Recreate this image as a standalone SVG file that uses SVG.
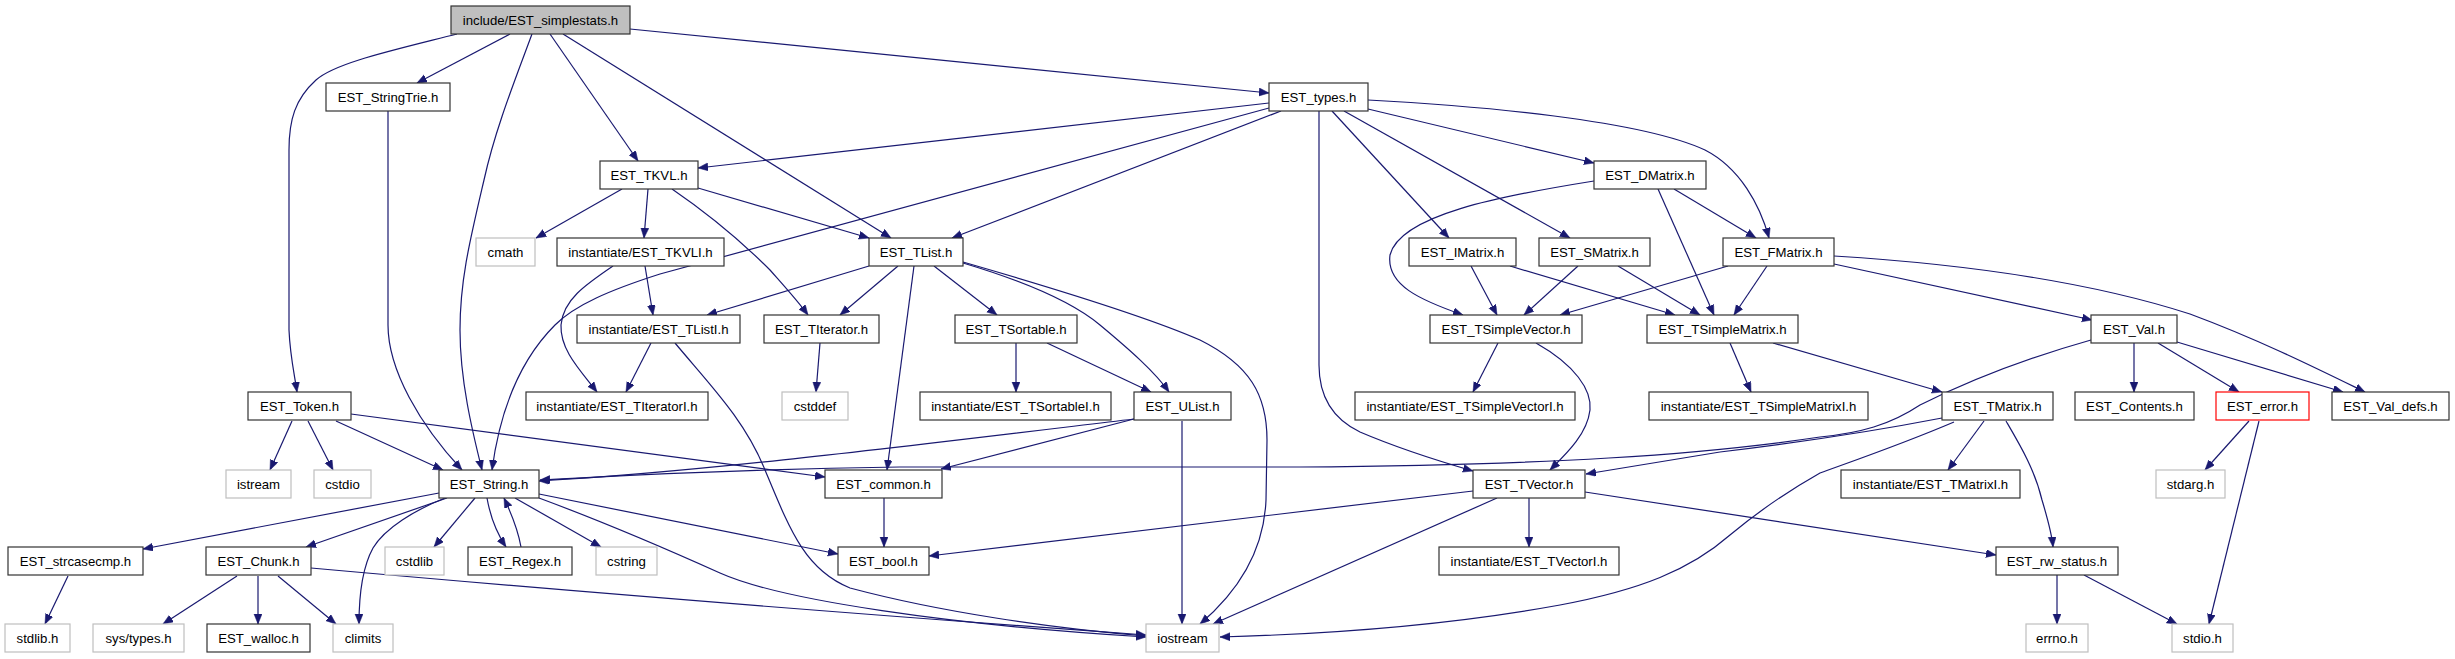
<svg xmlns="http://www.w3.org/2000/svg" width="2455" height="659" viewBox="0 0 2455 659">
<style>
.n rect{fill:#fff;stroke:#333333;stroke-width:1.2}
.g rect{fill:#fff;stroke:#bfbfbf;stroke-width:1.2}
.r rect{fill:#fff;stroke:#ff0000;stroke-width:1.2}
.t rect{fill:#bfbfbf;stroke:#333333;stroke-width:1.2}
text{font-family:"Liberation Sans",Arial,sans-serif;font-size:13.2px;fill:#000;text-anchor:middle}
.e path{fill:none;stroke:#191970;stroke-width:1.2;marker-end:url(#ah)}
</style>
<defs>
<marker id="ah" markerUnits="userSpaceOnUse" markerWidth="11" markerHeight="9" refX="10" refY="4" orient="auto">
<path d="M0,0 L10,4 L0,8 z" fill="#191970" stroke="#191970" stroke-width="0.5"/>
</marker>
</defs>
<rect width="2455" height="659" fill="#fff"/>
<g id="edges" class="e">
<path d="M457,34 C390,51 335,63 316,80 C295,99 289,120 289,150 L289,330 C290,355 294,372 297,392"/>
<path d="M510,34 L417,83"/>
<path d="M532,34 C515,80 495,130 484,180 C470,240 460,280 460,330 C460,380 472,430 482,470"/>
<path d="M550,34 L638,161"/>
<path d="M563,34 L891,238"/>
<path d="M630,29 L1269,93"/>
<path d="M388,111 L388,325 C388,370 420,425 462,470"/>
<path d="M1269,103 L698,168"/>
<path d="M1269,108 L660,274 C610,290 575,305 555,325 C520,360 500,410 492,470"/>
<path d="M1281,111 L952,238"/>
<path d="M1319,111 L1319,365 C1319,400 1335,420 1360,432 C1395,447 1435,460 1473,471"/>
<path d="M1368,109 L1594,163"/>
<path d="M1332,111 L1449,238"/>
<path d="M1344,111 L1570,238"/>
<path d="M1368,100 C1480,106 1640,120 1705,150 C1740,168 1760,205 1769,238"/>
<path d="M622,189 L536,238"/>
<path d="M648,189 L644,238"/>
<path d="M672,189 C710,215 745,245 770,270 C785,287 797,300 808,315"/>
<path d="M698,188 L869,238"/>
<path d="M645,266 L653,315"/>
<path d="M613,266 C585,285 563,300 561,325 C560,350 580,370 597,392"/>
<path d="M869,266 L707,315"/>
<path d="M898,266 L840,315"/>
<path d="M914,266 L887,470"/>
<path d="M934,266 L997,315"/>
<path d="M963,263 C1020,280 1070,300 1100,325 C1130,350 1155,372 1169,392"/>
<path d="M963,262 C1060,290 1150,318 1200,340 C1250,365 1267,395 1267,440 L1266,500 C1264,550 1240,590 1200,624"/>
<path d="M651,343 L626,392"/>
<path d="M675,343 C710,385 745,420 765,470 C790,530 805,570 850,588 C940,612 1050,628 1146,636"/>
<path d="M820,343 L816,392"/>
<path d="M1016,343 L1016,392"/>
<path d="M1047,343 L1151,392"/>
<path d="M1134,419 L941,469"/>
<path d="M1134,419 C900,447 700,472 539,481"/>
<path d="M2091,340 C2020,360 1960,385 1920,405 C1890,425 1860,433 1820,437 C1700,455 1550,465 1300,467 L900,467 C700,470 600,477 540,480"/>
<path d="M1942,418 C1880,430 1820,440 1720,452 L1586,474"/>
<path d="M1954,422 C1900,445 1850,462 1820,473 C1790,490 1760,510 1730,535 C1690,570 1640,590 1560,605 C1450,625 1330,634 1220,637"/>
<path d="M292,421 L270,470"/>
<path d="M308,421 L333,470"/>
<path d="M336,421 L443,470"/>
<path d="M351,414 L825,477"/>
<path d="M439,493 L143,549"/>
<path d="M447,498 L306,547"/>
<path d="M445,498 C415,510 385,528 373,548 C362,568 359,600 359,624"/>
<path d="M475,498 L434,547"/>
<path d="M487,498 C490,515 496,532 506,547"/>
<path d="M521,547 C518,530 512,515 504,498"/>
<path d="M515,498 L601,547"/>
<path d="M539,494 L838,554"/>
<path d="M539,498 C620,528 680,555 720,573 C780,600 950,625 1146,637"/>
<path d="M237,576 L163,624"/>
<path d="M258,576 L258,624"/>
<path d="M278,576 L336,624"/>
<path d="M311,568 C500,585 800,610 1146,635"/>
<path d="M68,576 L45,624"/>
<path d="M884,498 L884,547"/>
<path d="M1471,266 L1497,315"/>
<path d="M1510,266 L1675,315"/>
<path d="M1578,266 L1524,315"/>
<path d="M1618,266 L1700,315"/>
<path d="M1594,181 C1500,196 1400,215 1390,255 C1386,285 1420,300 1463,315"/>
<path d="M1658,189 L1714,315"/>
<path d="M1674,189 L1756,238"/>
<path d="M1728,266 L1560,315"/>
<path d="M1767,266 L1734,315"/>
<path d="M1834,264 L2092,320"/>
<path d="M1834,256 C1980,265 2100,285 2190,314 C2260,340 2320,370 2365,392"/>
<path d="M1498,343 L1473,392"/>
<path d="M1536,343 C1575,365 1592,390 1590,410 C1587,435 1565,455 1550,470"/>
<path d="M1730,343 L1751,392"/>
<path d="M1773,343 L1942,392"/>
<path d="M2134,343 L2134,392"/>
<path d="M2158,343 L2239,392"/>
<path d="M2177,342 L2343,392"/>
<path d="M1984,421 L1948,470"/>
<path d="M2006,421 C2020,445 2035,470 2042,500 C2048,520 2052,535 2053,547"/>
<path d="M2249,421 L2205,470"/>
<path d="M2259,421 L2209,624"/>
<path d="M2057,575 L2057,624"/>
<path d="M2084,575 L2177,624"/>
<path d="M1585,492 L1996,555"/>
<path d="M1529,498 L1529,547"/>
<path d="M1497,498 L1213,624"/>
<path d="M1473,491 L929,556"/>
<path d="M1182,421 L1182,624"/>
</g>
<g id="simplestats" class="t"><rect x="451" y="6" width="179" height="28"/><text x="540.5" y="24.5">include/EST_simplestats.h</text></g>
<g id="StringTrie" class="n"><rect x="326" y="83" width="124" height="28"/><text x="388" y="101.5">EST_StringTrie.h</text></g>
<g id="types" class="n"><rect x="1269" y="83" width="99" height="28"/><text x="1318.5" y="101.5">EST_types.h</text></g>
<g id="TKVL" class="n"><rect x="600" y="161" width="98" height="28"/><text x="649" y="179.5">EST_TKVL.h</text></g>
<g id="DMatrix" class="n"><rect x="1594" y="161" width="112" height="28"/><text x="1650" y="179.5">EST_DMatrix.h</text></g>
<g id="cmath" class="g"><rect x="476" y="238" width="59" height="28"/><text x="505.5" y="256.5">cmath</text></g>
<g id="TKVLI" class="n"><rect x="557" y="238" width="167" height="28"/><text x="640.5" y="256.5">instantiate/EST_TKVLI.h</text></g>
<g id="TList" class="n"><rect x="869" y="238" width="94" height="28"/><text x="916" y="256.5">EST_TList.h</text></g>
<g id="IMatrix" class="n"><rect x="1409" y="238" width="107" height="28"/><text x="1462.5" y="256.5">EST_IMatrix.h</text></g>
<g id="SMatrix" class="n"><rect x="1539" y="238" width="111" height="28"/><text x="1594.5" y="256.5">EST_SMatrix.h</text></g>
<g id="FMatrix" class="n"><rect x="1723" y="238" width="111" height="28"/><text x="1778.5" y="256.5">EST_FMatrix.h</text></g>
<g id="TListI" class="n"><rect x="577" y="315" width="163" height="28"/><text x="658.5" y="333.5">instantiate/EST_TListI.h</text></g>
<g id="TIterator" class="n"><rect x="764" y="315" width="115" height="28"/><text x="821.5" y="333.5">EST_TIterator.h</text></g>
<g id="TSortable" class="n"><rect x="955" y="315" width="122" height="28"/><text x="1016" y="333.5">EST_TSortable.h</text></g>
<g id="TSimpleVector" class="n"><rect x="1430" y="315" width="152" height="28"/><text x="1506" y="333.5">EST_TSimpleVector.h</text></g>
<g id="TSimpleMatrix" class="n"><rect x="1647" y="315" width="151" height="28"/><text x="1722.5" y="333.5">EST_TSimpleMatrix.h</text></g>
<g id="Val" class="n"><rect x="2091" y="315" width="86" height="28"/><text x="2134" y="333.5">EST_Val.h</text></g>
<g id="Token" class="n"><rect x="248" y="392" width="103" height="28"/><text x="299.5" y="410.5">EST_Token.h</text></g>
<g id="TIteratorI" class="n"><rect x="526" y="392" width="182" height="28"/><text x="617" y="410.5">instantiate/EST_TIteratorI.h</text></g>
<g id="cstddef" class="g"><rect x="782" y="392" width="66" height="28"/><text x="815" y="410.5">cstddef</text></g>
<g id="TSortableI" class="n"><rect x="920" y="392" width="191" height="28"/><text x="1015.5" y="410.5">instantiate/EST_TSortableI.h</text></g>
<g id="UList" class="n"><rect x="1134" y="392" width="97" height="28"/><text x="1182.5" y="410.5">EST_UList.h</text></g>
<g id="TSimpleVectorI" class="n"><rect x="1355" y="392" width="220" height="28"/><text x="1465" y="410.5">instantiate/EST_TSimpleVectorI.h</text></g>
<g id="TSimpleMatrixI" class="n"><rect x="1649" y="392" width="219" height="28"/><text x="1758.5" y="410.5">instantiate/EST_TSimpleMatrixI.h</text></g>
<g id="TMatrix" class="n"><rect x="1942" y="392" width="111" height="28"/><text x="1997.5" y="410.5">EST_TMatrix.h</text></g>
<g id="Contents" class="n"><rect x="2075" y="392" width="119" height="28"/><text x="2134.5" y="410.5">EST_Contents.h</text></g>
<g id="error" class="r"><rect x="2216" y="392" width="93" height="28"/><text x="2262.5" y="410.5">EST_error.h</text></g>
<g id="Val_defs" class="n"><rect x="2332" y="392" width="117" height="28"/><text x="2390.5" y="410.5">EST_Val_defs.h</text></g>
<g id="istream" class="g"><rect x="226" y="470" width="65" height="28"/><text x="258.5" y="488.5">istream</text></g>
<g id="cstdio" class="g"><rect x="314" y="470" width="57" height="28"/><text x="342.5" y="488.5">cstdio</text></g>
<g id="String" class="n"><rect x="439" y="470" width="100" height="28"/><text x="489" y="488.5">EST_String.h</text></g>
<g id="common" class="n"><rect x="825" y="470" width="117" height="28"/><text x="883.5" y="488.5">EST_common.h</text></g>
<g id="TVector" class="n"><rect x="1473" y="470" width="112" height="28"/><text x="1529" y="488.5">EST_TVector.h</text></g>
<g id="TMatrixI" class="n"><rect x="1841" y="470" width="179" height="28"/><text x="1930.5" y="488.5">instantiate/EST_TMatrixI.h</text></g>
<g id="stdarg" class="g"><rect x="2156" y="470" width="69" height="28"/><text x="2190.5" y="488.5">stdarg.h</text></g>
<g id="strcasecmp" class="n"><rect x="8" y="547" width="135" height="28"/><text x="75.5" y="565.5">EST_strcasecmp.h</text></g>
<g id="Chunk" class="n"><rect x="206" y="547" width="105" height="28"/><text x="258.5" y="565.5">EST_Chunk.h</text></g>
<g id="cstdlib" class="g"><rect x="385" y="547" width="59" height="28"/><text x="414.5" y="565.5">cstdlib</text></g>
<g id="Regex" class="n"><rect x="468" y="547" width="104" height="28"/><text x="520" y="565.5">EST_Regex.h</text></g>
<g id="cstring" class="g"><rect x="596" y="547" width="61" height="28"/><text x="626.5" y="565.5">cstring</text></g>
<g id="bool" class="n"><rect x="838" y="547" width="91" height="28"/><text x="883.5" y="565.5">EST_bool.h</text></g>
<g id="TVectorI" class="n"><rect x="1439" y="547" width="180" height="28"/><text x="1529" y="565.5">instantiate/EST_TVectorI.h</text></g>
<g id="rw_status" class="n"><rect x="1996" y="547" width="122" height="28"/><text x="2057" y="565.5">EST_rw_status.h</text></g>
<g id="stdlib" class="g"><rect x="5" y="624" width="65" height="28"/><text x="37.5" y="642.5">stdlib.h</text></g>
<g id="systypes" class="g"><rect x="93" y="624" width="91" height="28"/><text x="138.5" y="642.5">sys/types.h</text></g>
<g id="walloc" class="n"><rect x="207" y="624" width="103" height="28"/><text x="258.5" y="642.5">EST_walloc.h</text></g>
<g id="climits" class="g"><rect x="333" y="624" width="60" height="28"/><text x="363" y="642.5">climits</text></g>
<g id="iostream" class="g"><rect x="1146" y="624" width="73" height="28"/><text x="1182.5" y="642.5">iostream</text></g>
<g id="errno" class="g"><rect x="2026" y="624" width="62" height="28"/><text x="2057" y="642.5">errno.h</text></g>
<g id="stdio" class="g"><rect x="2172" y="624" width="61" height="28"/><text x="2202.5" y="642.5">stdio.h</text></g>
</svg>
